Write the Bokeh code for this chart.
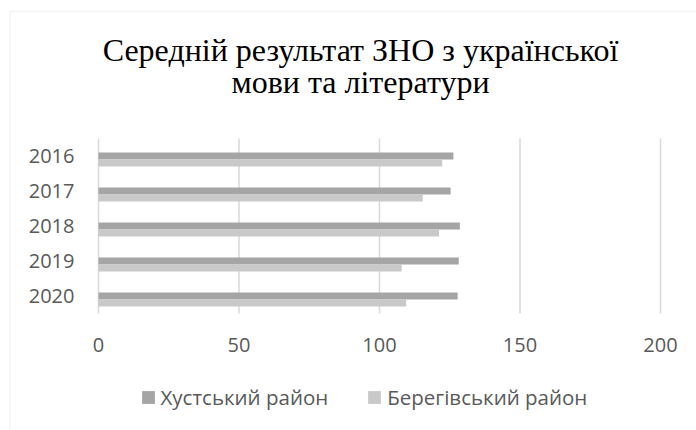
from bokeh.plotting import figure
from bokeh.models import (Range1d, Legend, LegendItem, Label, LinearAxis,
                          BoxAnnotation, FixedTicker, ColumnDataSource)
from bokeh.embed import file_html
from bokeh.resources import INLINE

years = ["2016", "2017", "2018", "2019", "2020"]
khust = [126.3, 125.3, 128.6, 128.2, 127.8]
berehove = [122.3, 115.4, 121.2, 107.9, 109.5]
series_names = ["Хустський район", "Берегівський район"]
x_ticks = [0, 50, 100, 150, 200]
title_lines = ["Середній результат ЗНО з української", "мови та літератури"]

# ---- layout constants (pixels) ----
W, H = 696, 430
PL, PR, PT, PB = 98, 660, 138, 313      # plot-area box on the canvas
XMIN, XMAX = 0, 200
n = len(years)
px_x = (PR - PL) / (XMAX - XMIN)
px_y = (PB - PT) / n

# row centres: first category on top
row = [n - i - 0.5 for i in range(n)]
bar_h = 0.2

src1 = ColumnDataSource(dict(y=row, v=khust))
src2 = ColumnDataSource(dict(y=[r - bar_h for r in row], v=berehove))

p = figure(width=W, height=H, output_backend="svg", toolbar_location=None,
           x_range=Range1d(XMIN - PL / px_x, XMAX + (W - PR) / px_x),
           y_range=Range1d(-(H - PB) / px_y, n + PT / px_y),
           x_axis_location=None, y_axis_location=None,
           min_border=0, min_border_left=0, min_border_right=0,
           min_border_top=0, min_border_bottom=0)
p.outline_line_color = None
p.background_fill_color = "white"
p.border_fill_color = "white"
p.grid.visible = False

# gridlines at the tick values, spanning the category area
p.segment(x0=x_ticks, x1=x_ticks, y0=[0] * len(x_ticks), y1=[n] * len(x_ticks),
          line_color="#d9d9d9", line_width=1.5)

r1 = p.hbar(y="y", right="v", left=0, height=bar_h, source=src1,
            fill_color="#a5a5a5", line_color=None)
r2 = p.hbar(y="y", right="v", left=0, height=bar_h, source=src2,
            fill_color="#c9c9c9", line_color=None)

font = "Open Sans"
xaxis = LinearAxis(fixed_location=0, ticker=FixedTicker(ticks=x_ticks))
yaxis = LinearAxis(fixed_location=0, ticker=FixedTicker(ticks=row),
                   major_label_overrides={r: y for r, y in zip(row, years)})
for ax in (xaxis, yaxis):
    ax.axis_line_color = None
    ax.major_tick_line_color = None
    ax.minor_tick_line_color = None
    ax.major_tick_in = 0
    ax.major_tick_out = 0
    ax.major_label_text_font = font
    ax.major_label_text_font_size = "20px"
    ax.major_label_text_color = "#595959"
xaxis.major_label_standoff = 24
yaxis.major_label_standoff = 24
p.add_layout(xaxis, "below")
p.add_layout(yaxis, "left")

# outer chart frame
p.add_layout(BoxAnnotation(left=9.5, right=W + 50, bottom=-50, top=H - 11,
                           left_units="screen", right_units="screen",
                           top_units="screen", bottom_units="screen",
                           fill_color=None, fill_alpha=0, line_color="#d9d9d9",
                           line_width=1.5))

# title
for t, yb in zip(title_lines, [H - 49, H - 81.5]):
    p.add_layout(Label(x=360, y=yb, x_units="screen", y_units="screen",
                       text=t, text_align="center", text_baseline="alphabetic",
                       text_font="Liberation Serif", text_font_size="32px",
                       text_color="black"))

legend = Legend(items=[LegendItem(label=series_names[0], renderers=[r1]),
                       LegendItem(label=series_names[1], renderers=[r2])],
                orientation="horizontal", location=(139.5, H - 411),
                glyph_width=16, glyph_height=16, label_standoff=5, spacing=38,
                padding=0, margin=0, border_line_color=None,
                background_fill_alpha=0,
                label_text_font=font, label_text_font_size="20.5px",
                label_text_color="#595959")
p.add_layout(legend, "center")

open("out.html", "w").write(file_html(p, INLINE))
